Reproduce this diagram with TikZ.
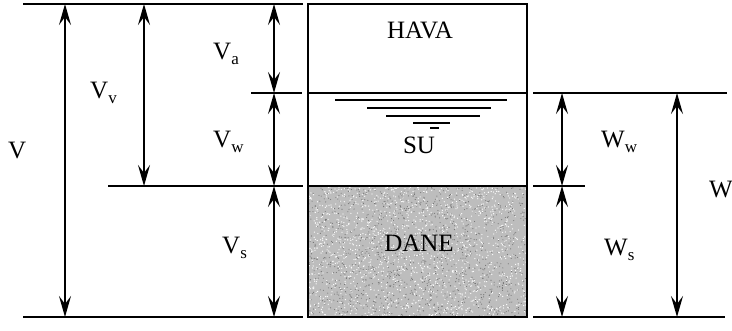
\documentclass[tikz,border=0pt]{standalone}
\usepackage{fontspec}
\setmainfont{Liberation Serif}
\usetikzlibrary{arrows.meta}
\newcommand\lsub[1]{\raisebox{-5pt}{\fontsize{17}{17}\selectfont #1}}
\begin{document}
\begin{tikzpicture}[x=1pt,y=-1pt,
  ln/.style={line width=1.6pt},
  dim/.style={line width=1.4pt,{Stealth[length=21pt,width=12pt,inset=8pt]}-{Stealth[length=21pt,width=12pt,inset=8pt]}},
  lbl/.style={anchor=base west,inner sep=0pt,font=\fontsize{25}{28}\selectfont},
  txt/.style={anchor=center,inner sep=0pt,font=\fontsize{25}{28}\selectfont},
  wl/.style={line width=1.6pt}]
\useasboundingbox (0,0) rectangle (732,330);
% soil fill
\fill[gray!52] (308,186) rectangle (527,317);
\pgfmathsetseed{7}
\foreach \i in {1,...,1300}{
  \pgfmathsetmacro\rx{309+217*rnd}\pgfmathsetmacro\ry{187+129*rnd}
  \fill[black!55] (\rx,\ry) circle (0.55pt);}
\foreach \i in {1,...,1500}{
  \pgfmathsetmacro\rx{309+217*rnd}\pgfmathsetmacro\ry{187+129*rnd}
  \fill[white] (\rx,\ry) circle (0.65pt);}
% box
\draw[ln] (308,4) rectangle (527,317);
\draw[ln] (308,93) -- (527,93);
\draw[ln] (308,186) -- (527,186);
% reference lines left
\coordinate (lt0) at (23,4);   \coordinate (lt1) at (303,4);
\coordinate (la0) at (251,93); \coordinate (la1) at (302,93);
\coordinate (lw0) at (108,186);\coordinate (lw1) at (303,186);
\coordinate (lb0) at (23,317); \coordinate (lb1) at (303,317);
\draw[ln] (lt0) -- (lt1);
\draw[ln] (la0) -- (la1);
\draw[ln] (lw0) -- (lw1);
\draw[ln] (lb0) -- (lb1);
% reference lines right
\coordinate (ra0) at (533,93); \coordinate (ra1) at (727,93);
\coordinate (rw0) at (533,186);\coordinate (rw1) at (585,186);
\coordinate (rb0) at (533,317);\coordinate (rb1) at (725,317);
\draw[ln] (ra0) -- (ra1);
\draw[ln] (rw0) -- (rw1);
\draw[ln] (rb0) -- (rb1);
% dimension arrow end points
\coordinate (V0) at (65,4);   \coordinate (V1) at (65,317);
\coordinate (Vv0) at (144,4); \coordinate (Vv1) at (144,186);
\coordinate (Va0) at (274,4); \coordinate (Va1) at (274,93);
\coordinate (Vw1) at (274,186);\coordinate (Vs1) at (274,317);
\coordinate (Ww0) at (562,93); \coordinate (Ww1) at (562,186);
\coordinate (Ws1) at (562,317);
\coordinate (W0) at (677,93);  \coordinate (W1) at (677,317);
\draw[dim] (V0) -- (V1);
\draw[dim] (Vv0) -- (Vv1);
\draw[dim] (Va0) -- (Va1);
\draw[dim] (Va1) -- (Vw1);
\draw[dim] (Vw1) -- (Vs1);
\draw[dim] (Ww0) -- (Ww1);
\draw[dim] (Ww1) -- (Ws1);
\draw[dim] (W0) -- (W1);
% water surface symbol
\draw[wl] (335,100) -- (507,100);
\draw[wl] (367,108) -- (491,108);
\draw[wl] (386,116) -- (480,116);
\draw[wl] (413,123) -- (450,123);
\draw[wl] (430,128) -- (439,128);
% labels
\node[lbl] (lV)  at (8,158)   {V};
\node[lbl] (lVv) at (90,98)   {V\lsub{v}};
\node[lbl] (lVa) at (213,59)  {V\lsub{a}};
\node[lbl] (lVw) at (213,147) {V\lsub{w}};
\node[lbl] (lVs) at (222,253) {V\lsub{s}};
\node[lbl] (lWw) at (601,147) {W\lsub{w}};
\node[lbl] (lW)  at (709,197) {W};
\node[lbl] (lWs) at (604,255) {W\lsub{s}};
\node[txt] (hava) at (420,30)  {HAVA};
\node[txt] (su)   at (419,145) {SU};
\node[txt] (dane) at (419,243) {DANE};
\end{tikzpicture}
\end{document}
